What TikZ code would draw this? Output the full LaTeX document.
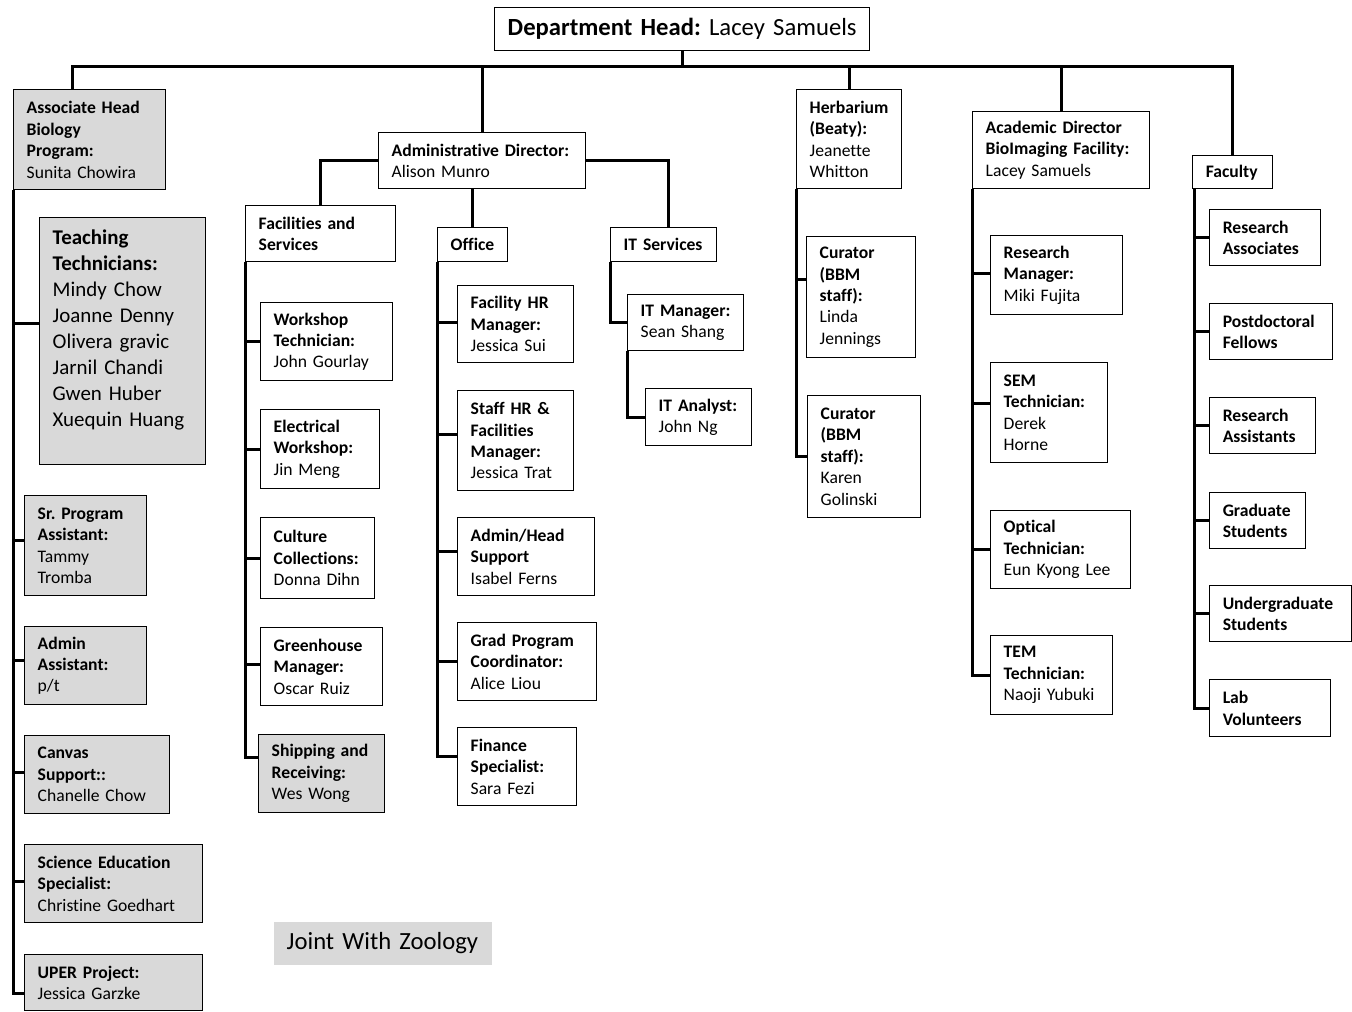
\documentclass[tikz,border=0pt]{standalone}
\usepackage{fontspec}
\setmainfont[Ligatures=NoCommon]{Carlito}
\frenchspacing
\tikzset{
  box/.style={draw,line width=1.1pt,anchor=north west,inner sep=0pt,align=left,
    font=\fontsize{13.2}{16.1}\selectfont,execute at begin node={\leftskip=9.75pt}},
  gbox/.style={box,fill=black!15},
  wh/.style 2 args={minimum width=#1*0.75pt,minimum height=#2*0.75pt,text width=#1*0.75pt},
  big/.style={font=\fontsize{18.5}{20}\selectfont},
  link/.style={line width=2.25pt}
}

\begin{document}
\begin{tikzpicture}[x=0.75pt,y=-0.75pt]
  \useasboundingbox (0,0) rectangle (1352,1011);

  \node[box,big,wh={375}{43}] (head) at (494,7) {\textbf{Department Head:} Lacey Samuels};

  % associate head column
  \node[gbox,wh={152}{100}] (assoc) at (13,89) {\textbf{Associate Head}\\\textbf{Biology}\\\textbf{Program:}\\Sunita Chowira};
  \node[gbox,wh={166}{247},font=\fontsize{15.7}{19.5}\selectfont] (teach) at (39,217)
    {\textbf{Teaching}\\\textbf{Technicians:}\\Mindy Chow\\Joanne Denny\\Olivera gravic\\Jarnil Chandi\\Gwen Huber\\Xuequin Huang\\\mbox{}};
  \node[gbox,wh={122}{100}] (sra) at (24,495) {\textbf{Sr. Program}\\\textbf{Assistant:}\\Tammy\\Tromba};
  \node[gbox,wh={122}{78}] (aa) at (24,626) {\textbf{Admin}\\\textbf{Assistant:}\\p/t};
  \node[gbox,wh={145}{78}] (canvas) at (24,735) {\textbf{Canvas}\\\textbf{Support::}\\Chanelle Chow};
  \node[gbox,wh={178}{78}] (sci) at (24,844) {\textbf{Science Education}\\\textbf{Specialist:}\\Christine Goedhart};
  \node[gbox,wh={178}{56}] (uper) at (24,954) {\textbf{UPER Project:}\\Jessica Garzke};

  % administration
  \node[box,wh={207}{56}] (admin) at (378,132) {\textbf{Administrative Director:}\\Alison Munro};
  \node[box,wh={150}{56}] (facil) at (245,205) {\textbf{Facilities and}\\\textbf{Services}};
  \node[box,wh={70}{34}] (office) at (437,227) {\textbf{Office}};
  \node[box,wh={106}{34}] (its) at (610,227) {\textbf{IT Services}};

  \node[box,wh={132}{78}] (work) at (260,302) {\textbf{Workshop}\\\textbf{Technician:}\\John Gourlay};
  \node[box,wh={119}{79}] (elec) at (260,409) {\textbf{Electrical}\\\textbf{Workshop:}\\Jin Meng};
  \node[box,wh={114}{81}] (cult) at (260,517) {\textbf{Culture}\\\textbf{Collections:}\\Donna Dihn};
  \node[box,wh={122}{78}] (green) at (260,627) {\textbf{Greenhouse}\\\textbf{Manager:}\\Oscar Ruiz};
  \node[gbox,wh={126}{78}] (ship) at (258,734) {\textbf{Shipping and}\\\textbf{Receiving:}\\Wes Wong};

  \node[box,wh={116}{77}] (fhr) at (457,285) {\textbf{Facility HR}\\\textbf{Manager:}\\Jessica Sui};
  \node[box,wh={116}{100}] (shr) at (457,390) {\textbf{Staff HR \&}\\\textbf{Facilities}\\\textbf{Manager:}\\Jessica Trat};
  \node[box,wh={137}{78}] (ahs) at (457,517) {\textbf{Admin/Head}\\\textbf{Support}\\Isabel Ferns};
  \node[box,wh={139}{78}] (gpc) at (457,622) {\textbf{Grad Program}\\\textbf{Coordinator:}\\Alice Liou};
  \node[box,wh={119}{78}] (fin) at (457,727) {\textbf{Finance}\\\textbf{Specialist:}\\Sara Fezi};

  \node[box,wh={116}{56}] (itman) at (627,294) {\textbf{IT Manager:}\\Sean Shang};
  \node[box,wh={106}{57}] (itan) at (645,388) {\textbf{IT Analyst:}\\John Ng};

  % herbarium
  \node[box,wh={105}{99}] (herb) at (796,89) {\textbf{Herbarium}\\\textbf{(Beaty):}\\Jeanette\\Whitton};
  \node[box,wh={109}{121}] (cur1) at (806,236) {\textbf{Curator}\\\textbf{(BBM}\\\textbf{staff):}\\Linda\\Jennings};
  \node[box,wh={113}{122}] (cur2) at (807,395) {\textbf{Curator}\\\textbf{(BBM}\\\textbf{staff):}\\Karen\\Golinski};

  % bioimaging
  \node[box,wh={177}{77}] (acad) at (972,111) {\textbf{Academic Director}\\\textbf{BioImaging Facility:}\\Lacey Samuels};
  \node[box,wh={132}{79}] (rman) at (990,235) {\textbf{Research}\\\textbf{Manager:}\\Miki Fujita};
  \node[box,wh={117}{100}] (sem) at (990,362) {\textbf{SEM}\\\textbf{Technician:}\\Derek\\Horne};
  \node[box,wh={140}{78}] (opt) at (990,510) {\textbf{Optical}\\\textbf{Technician:}\\Eun Kyong Lee};
  \node[box,wh={122}{79}] (tem) at (990,635) {\textbf{TEM}\\\textbf{Technician:}\\Naoji Yubuki};

  % faculty
  \node[box,wh={80}{33}] (fac) at (1192,155) {\textbf{Faculty}};
  \node[box,wh={111}{56}] (ra) at (1209,209) {\textbf{Research}\\\textbf{Associates}};
  \node[box,wh={123}{56}] (pd) at (1209,303) {\textbf{Postdoctoral}\\\textbf{Fellows}};
  \node[box,wh={106}{56}] (rass) at (1209,397) {\textbf{Research}\\\textbf{Assistants}};
  \node[box,wh={96}{56}] (gs) at (1209,492) {\textbf{Graduate}\\\textbf{Students}};
  \node[box,wh={142}{56}] (ug) at (1209,585) {\textbf{Undergraduate}\\\textbf{Students}};
  \node[box,wh={121}{57}] (lv) at (1209,679) {\textbf{Lab}\\\textbf{Volunteers}};

  \node[box,big,draw=none,fill=black!15,wh={218}{43}] (joint) at (273,921) {Joint With Zoology};

  % connectors
  \coordinate (busL) at (72,66);
  \draw[link] (assoc.north -| busL) -- (busL) -- (busL -| fac.north) -- (fac.north);
  \foreach \n in {head.south,admin.north,herb.north,acad.north}
    \draw[link] (\n) -- (\n |- busL);

  \foreach \n/\s in {teach/13,sra/4,aa/4,canvas/2,sci/1.5,uper/-8}
    \draw[link] ([yshift=\s pt]\n.west) -| (assoc.south west);

  \draw[link] (admin.west) -| (facil.north);
  \draw[link] (admin.east) -| ([xshift=3.75pt]its.north);
  \draw[link] (office.north) -- (office.north |- admin.south);

  \foreach \n/\s in {work/0,elec/0,cult/0,green/2,ship/12}
    \draw[link] ([yshift=\s pt]\n.west) -| (facil.south west);
  \foreach \n/\s in {fhr/1,shr/4.5,ahs/4,gpc/0,fin/7.5}
    \draw[link] ([yshift=\s pt]\n.west) -| (office.south west);
  \draw[link] (itman.west) -| (its.south west);
  \draw[link] (itan.west) -| (itman.south west);

  \foreach \n/\s in {cur1/13,cur2/0}
    \draw[link] ([yshift=\s pt]\n.west) -| (herb.south west);
  \foreach \n/\s in {rman/1,sem/7,opt/0,tem/0}
    \draw[link] ([yshift=\s pt]\n.west) -| (acad.south west);
  \foreach \n in {ra,pd,rass,gs,ug,lv}
    \draw[link] (\n.west) -| ([xshift=1.5pt]fac.south west);
\end{tikzpicture}
\end{document}
